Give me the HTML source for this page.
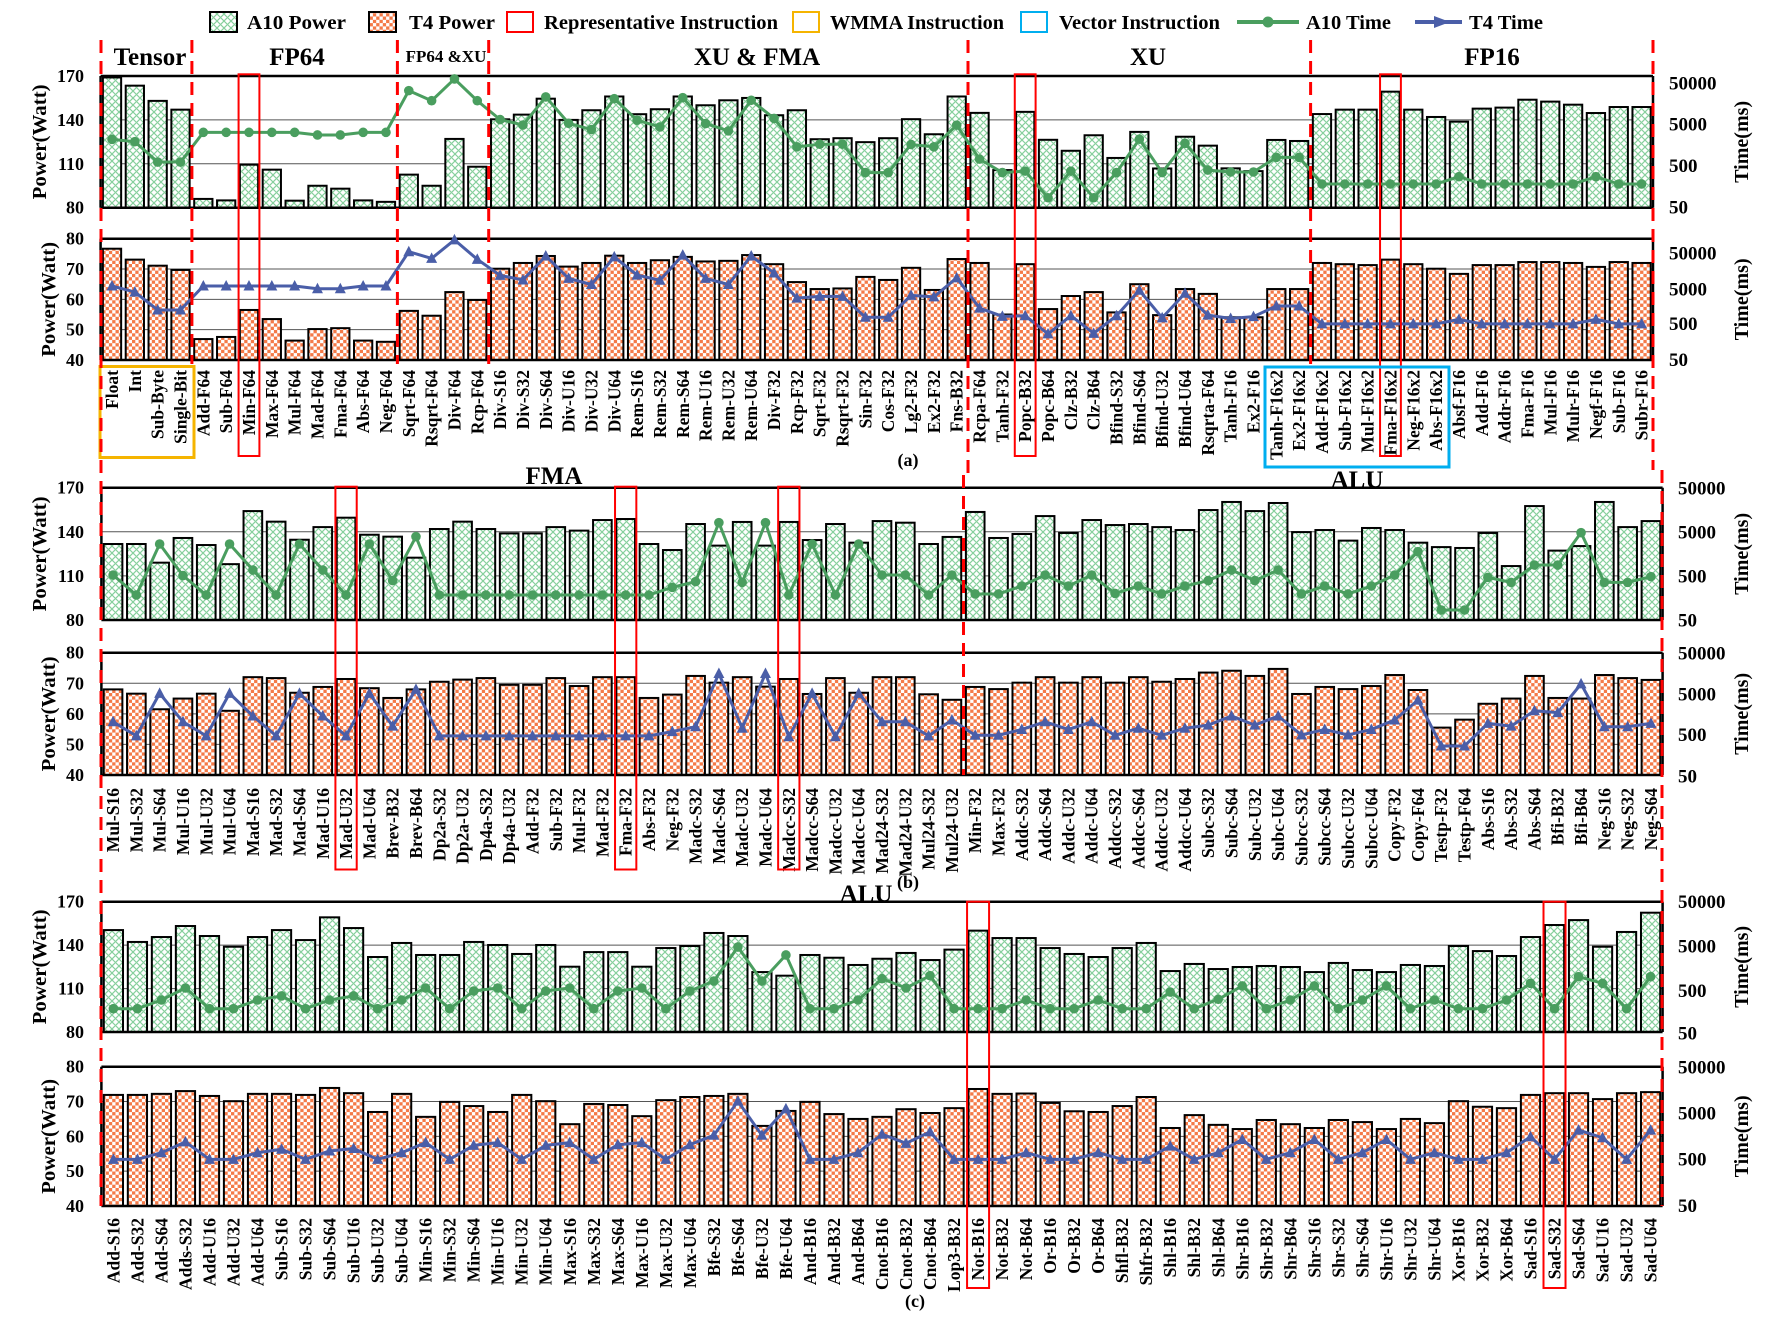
<!DOCTYPE html>
<html><head><meta charset="utf-8"><style>
html,body{margin:0;padding:0;background:#fff}
svg{display:block}
text{font-family:"Liberation Serif",serif;font-weight:bold;fill:#000}
</style></head><body>
<svg id="s" xmlns="http://www.w3.org/2000/svg" width="1782" height="1326" viewBox="0 0 1782 1326">
<defs>
<pattern id="pg" width="7" height="7" patternUnits="userSpaceOnUse">
<rect width="7" height="7" fill="#fff"/>
<path d="M0,7 L7,0 M0,0 L3,3 M4,4 L7,7" stroke="#86cf9c" stroke-width="1.2" fill="none"/>
</pattern>
<pattern id="po" width="6.6" height="6.6" patternUnits="userSpaceOnUse">
<rect width="6.6" height="6.6" fill="#f47a48"/>
<rect width="3.3" height="3.3" fill="#fff"/>
<rect x="3.3" y="3.3" width="3.3" height="3.3" fill="#fff"/>
</pattern>
</defs>
<g id="g"></g>
</svg>
<script>
var NS="http://www.w3.org/2000/svg",G=document.getElementById("g");
function el(t,a,txt){var e=document.createElementNS(NS,t);for(var k in a)e.setAttribute(k,a[k]);if(txt!=null)e.textContent=txt;G.appendChild(e);return e;}
function txt(x,y,s,fs,anc,extra){var a={x:x,y:y,"font-size":fs,"text-anchor":anc||"start"};if(extra)for(var k in extra)a[k]=extra[k];return el("text",a,s);}
function A(s){return s.trim().split(/\s+/).map(Number);}

var P=[
{n:68,x0:100.6,x1:1653,tT:76,tB:207.7,bT:238.7,bB:360,ly:370,rx:1669,
lab:"Float Int Sub-Byte Single-Bit Add-F64 Sub-F64 Min-F64 Max-F64 Mul-F64 Mad-F64 Fma-F64 Abs-F64 Neg-F64 Sqrt-F64 Rsqrt-F64 Div-F64 Rcp-F64 Div-S16 Div-S32 Div-S64 Div-U16 Div-U32 Div-U64 Rem-S16 Rem-S32 Rem-S64 Rem-U16 Rem-U32 Rem-U64 Div-F32 Rcp-F32 Sqrt-F32 Rsqrt-F32 Sin-F32 Cos-F32 Lg2-F32 Ex2-F32 Fns-B32 Rcpa-F64 Tanh-F32 Popc-B32 Popc-B64 Clz-B32 Clz-B64 Bfind-S32 Bfind-S64 Bfind-U32 Bfind-U64 Rsqrta-F64 Tanh-F16 Ex2-F16 Tanh-F16x2 Ex2-F16x2 Add-F16x2 Sub-F16x2 Mul-F16x2 Fma-F16x2 Neg-F16x2 Abs-F16x2 Absf-F16 Add-F16 Addr-F16 Fma-F16 Mul-F16 Mulr-F16 Negf-F16 Sub-F16 Subr-F16",
ta:A("169 163.4 153 147 86 85 109.4 106 84.8 95 93 85 84 102.6 95 127 108 140.4 143.6 154.5 140 146.6 156 143.9 147.3 156 150 153.4 155 143.2 146.6 126.8 127.5 124.8 127.5 140.5 130.2 156 144.8 105.7 145.5 126.4 118.9 129.5 114 131.8 106.8 128.5 122.4 106.9 105 126.3 125.6 144 147 147 159.3 147 142 138.8 147.7 148.4 153.8 152.5 150.4 144.7 148.8 148.8"),
la:A("126.7 125.1 111.2 111.2 131.5 131.5 131.5 131.5 131.5 129.7 129.7 131.5 131.5 160 153.1 168 153.1 140.2 136.5 155.7 137.7 133.4 154.5 139.8 135.2 155.2 137.5 132.5 153.4 141 121.6 123.4 123.4 104 104 123.2 121.6 136.4 113.2 104 105 86.8 105 86.8 104 126.8 104 124 105.7 104.4 104.4 114.4 114.4 96.2 96.2 96.2 96.2 96.2 96.2 101.2 96.2 96.2 96.2 96.2 96.2 101.2 96.2 96.2"),
tb:A("76.7 73.1 71.1 69.7 46.9 47.6 56.5 53.5 46.4 50.2 50.5 46.4 46 56.2 54.6 62.4 59.8 70.1 72 74.3 70.8 72 74.4 72 72.9 74 72.5 72.7 74.6 71.6 65.7 63.4 63.6 67.4 66.4 70.4 63.1 73.3 72 55 71.6 56.8 61.1 62.4 55.7 65 54.8 63.4 61.8 54.1 54.1 63.4 63.4 72 71.6 71.3 73.1 71.6 70.1 68.4 71.3 71.3 72.3 72.3 72 70.7 72.3 72"),
lb:A("64.4 62.4 56.5 56.5 64.4 64.4 64.4 64.4 64.4 63.5 63.5 64.4 64.4 75.7 73.5 79.6 73.2 67.9 66.4 74.3 66.9 64.9 74 68 66.3 74.6 66.9 64.9 74.3 68.7 60.4 61 61 54.1 54.1 61.3 60.8 67.1 57.1 54.4 54.6 48.6 54.6 48.8 54.6 63 53.9 62 54.8 53.7 54.3 57.8 57.8 51.9 51.9 51.9 51.9 51.9 51.9 53.4 51.9 51.9 51.9 51.9 51.9 53.4 51.9 51.9"),
rt:[83.3,124.3,166,207.7],rb:[253.3,289.3,324,360],red:[6,40,56]},
{n:67,x0:101.4,x1:1662.6,tT:487.7,tB:620,bT:652.7,bB:775,ly:788,rx:1678,
lab:"Mul-S16 Mul-S32 Mul-S64 Mul-U16 Mul-U32 Mul-U64 Mad-S16 Mad-S32 Mad-S64 Mad-U16 Mad-U32 Mad-U64 Brev-B32 Brev-B64 Dp2a-S32 Dp2a-U32 Dp4a-S32 Dp4a-U32 Add-F32 Sub-F32 Mul-F32 Mad-F32 Fma-F32 Abs-F32 Neg-F32 Madc-S32 Madc-S64 Madc-U32 Madc-U64 Madcc-S32 Madcc-S64 Madcc-U32 Madcc-U64 Mad24-S32 Mad24-U32 Mul24-S32 Mul24-U32 Min-F32 Max-F32 Addc-S32 Addc-S64 Addc-U32 Addc-U64 Addcc-S32 Addcc-S64 Addcc-U32 Addcc-U64 Subc-S32 Subc-S64 Subc-U32 Subc-U64 Subcc-S32 Subcc-S64 Subcc-U32 Subcc-U64 Copy-F32 Copy-F64 Testp-F32 Testp-F64 Abs-S16 Abs-S32 Abs-S64 Bfi-B32 Bfi-B64 Neg-S16 Neg-S32 Neg-S64",
ta:A("131.7 131.7 119 135.8 131 118 154.1 146.9 134.6 143.2 149.6 138 136.7 122.4 141.9 146.9 141.9 138.9 138.9 143.2 140.8 148 148.7 131.7 127.6 145.3 130.6 146.7 130.6 146.7 134.4 145.3 132.6 147.3 146.2 131.7 136.5 153.5 135.8 138.5 150.7 139.2 148 144.6 145.3 143.2 141.2 154.8 160.3 154.1 159.6 139.8 141.2 134 142.6 141.2 132.6 129.6 129 139.2 116.7 157.5 127.2 130.3 160.3 143.2 147.3"),
la:A("110.6 97 131.7 110.2 97 131.7 114 97 131.7 114 97 131.7 106.8 136.7 97 97 97 97 97 97 97 97 97 97 102.2 106.1 146.2 105.6 146.2 97 131.7 97 131.7 110.6 110.6 97 110.6 97.7 97.7 103.1 110.6 103.1 110.6 98.1 103.1 97.7 103.1 106.8 114 106.8 114 97.7 103.1 97.7 103.1 110.6 126.5 86.8 86.8 109 105.6 117.4 117.4 139.4 105.6 105.6 109.5"),
tb:A("68 66.6 61.5 65 66.6 61 72 71.7 66.9 68.8 71.4 68.4 65.2 68 70.5 71.2 71.7 69.5 69.5 71.7 69.1 72 72 65.2 66.3 72.4 70.2 72 68.9 71.4 66.5 71.7 66.9 72 72 66.4 64.6 68.8 68.1 70.2 72 70.2 72 70.2 72 70.5 71.4 73.5 74.1 72.4 74.7 66.5 68.8 68.1 69.1 72.7 67.8 55.5 58.1 63.3 65 72.4 65.2 65 72.7 71.7 71.1"),
lb:A("57.4 52.8 66.7 57.4 52.8 66.7 59.3 52.8 66.7 59.3 52.8 66.7 56 68 52.8 52.8 52.8 52.8 52.8 52.8 52.8 52.8 52.8 52.8 54.2 55.8 73.2 55.3 73.2 52.5 66.7 52.5 66.7 57.4 57.4 52.8 58 53 53 54.9 57.4 54.9 57.4 53 55.3 53 55.3 56.3 59.3 56.3 59.3 53.1 54.9 53.1 54.9 58 64.5 49.5 49.5 56.9 56 61 60.4 69.8 55.8 55.8 56.9"),
rt:[488.3,532.3,576.7,620.7],rb:[653.3,694.3,735,776.7],red:[10,22,29]},
{n:65,x0:101.4,x1:1662.6,tT:901.7,tB:1032,bT:1066.7,bB:1206,ly:1218,rx:1678,
lab:"Add-S16 Add-S32 Add-S64 Adds-S32 Add-U16 Add-U32 Add-U64 Sub-S16 Sub-S32 Sub-S64 Sub-U16 Sub-U32 Sub-U64 Min-S16 Min-S32 Min-S64 Min-U16 Min-U32 Min-U64 Max-S16 Max-S32 Max-S64 Max-U16 Max-U32 Max-U64 Bfe-S32 Bfe-S64 Bfe-U32 Bfe-U64 And-B16 And-B32 And-B64 Cnot-B16 Cnot-B32 Cnot-B64 Lop3-B32 Not-B16 Not-B32 Not-B64 Or-B16 Or-B32 Or-B64 Shfl-B32 Shfr-B32 Shl-B16 Shl-B32 Shl-B64 Shr-B16 Shr-B32 Shr-B64 Shr-S16 Shr-S32 Shr-S64 Shr-U16 Shr-U32 Shr-U64 Xor-B16 Xor-B32 Xor-B64 Sad-S16 Sad-S32 Sad-S64 Sad-U16 Sad-U32 Sad-U64",
ta:A("150.4 142.2 145.6 153.2 146.3 138.9 145.6 150.4 143.5 159.2 151.8 131.8 141.5 133.2 133.2 142.2 140.1 133.9 140.1 125.1 135.2 135.2 125.1 138 139.4 148.4 146.3 121.4 118.9 133.2 131.3 126.3 130.6 134.6 129.7 136.9 150 144.9 144.9 138 133.9 131.8 138 141.5 122.1 127 123.5 124.9 125.6 124.9 121.4 127.7 122.8 121.4 126.3 125.6 139.4 135.9 132.5 145.6 153.9 157.3 138.9 149.1 162.4"),
la:A("96.1 96.1 102.1 110.4 96.1 96.1 102.1 104.9 96.1 102.1 104.9 96.1 102.1 110.4 96.1 108.3 110.4 96.1 108.3 110.4 96.1 108.3 110.4 96.1 108.3 115.2 138.7 115.2 133.2 96.1 96.1 102.1 116.8 110.4 118.9 96.1 96.1 96.1 102.1 96.1 96.1 102.1 96.1 96.1 107.6 96.1 102.6 111.8 96.1 102.1 111.8 96.1 102.1 111.8 96.1 102.1 96.1 96.1 102.1 113.6 96.1 118.2 113.6 96.1 118.2"),
tb:A("71.9 71.9 72.2 73 71.6 70.1 72.2 72.2 71.9 73.9 72.4 67 72.2 65.6 69.9 68.7 67 71.9 70.1 63.5 69.3 69 65.8 70.4 71.3 71.6 72.2 63 67.3 69.9 66.4 65 65.6 67.8 66.7 68.1 73.6 72.2 72.3 69.6 67.2 67 68.7 71.3 62.4 66.1 63.3 62.1 64.7 63.5 62.4 64.7 64.1 62.1 65 63.8 70.1 68.5 68.1 71.9 72.4 72.4 70.7 72.4 72.7"),
lb:A("53.4 53.4 55.3 58.4 53.4 53.4 55.3 56.3 53.4 55.8 56.5 53.4 55.3 58.2 53.4 57.4 58.2 53.4 57.4 58.2 53.4 57.6 58.2 53.4 57.6 60.3 70.1 60.3 67.9 53.4 53.4 55.3 60.6 58 61.3 53.4 53.4 53.4 55.3 53.4 53.4 55.3 53.4 53.4 57.2 53.4 55.3 59.1 53.4 55.3 59.1 53.4 55.3 59.1 53.4 55.3 53.4 53.4 55.3 59.9 53.4 61.8 59.6 53.4 61.8"),
rt:[902,946.7,991,1033.3],rb:[1067.7,1113.3,1159.3,1206],red:[36,60]}
];

var boxTops=[[74.3,456],[486.7,869.5],[901.7,1288]];

P.forEach(function(p,pi){
  var sp=(p.x1-p.x0)/p.n, bw=sp*0.8;
  function cx(i){return p.x0+sp*(i+0.5);}
  function yt(v){return p.tB-(v-80)/90*(p.tB-p.tT);}
  function yb(v){return p.bB-(v-40)/40*(p.bB-p.bT);}
  [140,110].forEach(function(v){el("line",{x1:p.x0,x2:p.x1,y1:yt(v),y2:yt(v),stroke:"#555","stroke-width":1});});
  [70,60,50].forEach(function(v){el("line",{x1:p.x0,x2:p.x1,y1:yb(v),y2:yb(v),stroke:"#555","stroke-width":1});});
  for(var i=0;i<p.n;i++){
    var x=cx(i)-bw/2, y=yt(p.ta[i]);
    el("rect",{x:x,y:y,width:bw,height:p.tB-y,fill:"url(#pg)",stroke:"#000","stroke-width":2});
    y=yb(p.tb[i]);
    el("rect",{x:x,y:y,width:bw,height:p.bB-y,fill:"url(#po)",stroke:"#000","stroke-width":2});
  }
  [[p.tT,p.tB],[p.bT,p.bB]].forEach(function(r){
    el("line",{x1:p.x0,x2:p.x1,y1:r[0],y2:r[0],stroke:"#000","stroke-width":2.5});
    el("line",{x1:p.x0,x2:p.x1,y1:r[1],y2:r[1],stroke:"#000","stroke-width":2.5});
    el("line",{x1:p.x0,x2:p.x0,y1:r[0],y2:r[1],stroke:"#000","stroke-width":2.5});
    el("line",{x1:p.x1,x2:p.x1,y1:r[0],y2:r[1],stroke:"#000","stroke-width":2.5});
  });
  var pts=[],pts2=[];
  for(var i=0;i<p.n;i++){pts.push(cx(i)+","+yt(p.la[i]));pts2.push(cx(i)+","+yb(p.lb[i]));}
  el("polyline",{points:pts.join(" "),fill:"none",stroke:"#4a9e5f","stroke-width":3,"stroke-linejoin":"round"});
  el("polyline",{points:pts2.join(" "),fill:"none",stroke:"#4a5ea8","stroke-width":3,"stroke-linejoin":"round"});
  for(var i=0;i<p.n;i++){
    el("circle",{cx:cx(i),cy:yt(p.la[i]),r:4.8,fill:"#4a9e5f"});
    var X=cx(i),Y=yb(p.lb[i]);
    el("polygon",{points:(X-5.5)+","+(Y+4.5)+" "+(X+5.5)+","+(Y+4.5)+" "+X+","+(Y-6),fill:"#4a5ea8"});
  }
  [["170",170],["140",140],["110",110],["80",80]].forEach(function(t){txt(84,yt(t[1])+6,t[0],18,"end");});
  [["80",80],["70",70],["60",60],["50",50],["40",40]].forEach(function(t){txt(84,yb(t[1])+6,t[0],18,"end");});
  ["50000","5000","500","50"].forEach(function(s,k){txt(p.rx,p.rt[k]+6,s,19);txt(p.rx,p.rb[k]+6,s,19);});
  var mt=(p.tT+p.tB)/2, mb=(p.bT+p.bB)/2;
  txt(0,0,"Power(Watt)",20,"middle",{transform:"translate(46,"+mt+") rotate(-90)",textLength:115,lengthAdjust:"spacingAndGlyphs"});
  txt(0,0,"Power(Watt)",20,"middle",{transform:"translate(55,"+mb+") rotate(-90)",textLength:115,lengthAdjust:"spacingAndGlyphs"});
  txt(0,0,"Time(ms)",20,"middle",{transform:"translate(1748,"+mt+") rotate(-90)",textLength:82,lengthAdjust:"spacingAndGlyphs"});
  txt(0,0,"Time(ms)",20,"middle",{transform:"translate(1748,"+mb+") rotate(-90)",textLength:82,lengthAdjust:"spacingAndGlyphs"});
  p.lab.split(" ").forEach(function(s,i){
    txt(0,0,s,17.5,"end",{transform:"translate("+(cx(i)+6)+","+p.ly+") rotate(-90)"});
  });
  p.red.forEach(function(i){
    el("rect",{x:cx(i)-sp/2+1,y:boxTops[pi][0],width:sp-2,height:boxTops[pi][1]-boxTops[pi][0],fill:"none",stroke:"#f00","stroke-width":2});
  });
});

el("rect",{x:100,y:366.5,width:94,height:91,fill:"none",stroke:"#f5b400","stroke-width":3});
el("rect",{x:1265,y:367,width:184,height:100,fill:"none",stroke:"#00aeef","stroke-width":3});

function dl(x,y1,y2){el("line",{x1:x,x2:x,y1:y1,y2:y2,stroke:"#f00","stroke-width":3,"stroke-dasharray":"13 8"});}
dl(101,40,1206);
[191.9,397.4,488.7,1310.6].forEach(function(x){dl(x,40,364);});
dl(968,40,475);
dl(963.5,475,775);
dl(1653,40,470);
dl(1662,470,1206);

txt(150,65,"Tensor",25,"middle");
txt(297,65,"FP64",25,"middle");
txt(446,62,"FP64 &XU",17,"middle");
txt(757,65,"XU & FMA",25,"middle");
txt(1148,65,"XU",25,"middle");
txt(1492,65,"FP16",25,"middle");
txt(554,484,"FMA",25,"middle");
txt(1357,488,"ALU",25,"middle");
txt(866,902,"ALU",25,"middle");
txt(908,466,"(a)",18,"middle");
txt(908,888,"(b)",18,"middle");
txt(915,1307,"(c)",18,"middle");

el("rect",{x:210,y:12,width:27,height:20,fill:"url(#pg)",stroke:"#000","stroke-width":2});
txt(247,29,"A10 Power",20,"start",{textLength:99,lengthAdjust:"spacingAndGlyphs"});
el("rect",{x:369,y:12,width:27,height:20,fill:"url(#po)",stroke:"#000","stroke-width":2});
txt(409,29,"T4 Power",20,"start",{textLength:86,lengthAdjust:"spacingAndGlyphs"});
el("rect",{x:507,y:12,width:26,height:20,fill:"none",stroke:"#f00","stroke-width":2});
txt(544,29,"Representative Instruction",20,"start",{textLength:234,lengthAdjust:"spacingAndGlyphs"});
el("rect",{x:793,y:12,width:26,height:20,fill:"none",stroke:"#f5b400","stroke-width":2});
txt(830,29,"WMMA  Instruction",20,"start",{textLength:174,lengthAdjust:"spacingAndGlyphs"});
el("rect",{x:1021,y:12,width:26,height:20,fill:"none",stroke:"#00aeef","stroke-width":2});
txt(1059,29,"Vector Instruction",20,"start",{textLength:161,lengthAdjust:"spacingAndGlyphs"});
el("line",{x1:1237,x2:1299,y1:22,y2:22,stroke:"#4a9e5f","stroke-width":4});
el("circle",{cx:1268,cy:22,r:5.5,fill:"#4a9e5f"});
txt(1306,29,"A10 Time",20,"start",{textLength:85,lengthAdjust:"spacingAndGlyphs"});
el("line",{x1:1415,x2:1462,y1:22,y2:22,stroke:"#4a5ea8","stroke-width":4});
el("polygon",{points:"1434,16 1450,22 1434,28",fill:"#4a5ea8"});
txt(1469,29,"T4 Time",20,"start",{textLength:74,lengthAdjust:"spacingAndGlyphs"});
</script>
</body></html>
